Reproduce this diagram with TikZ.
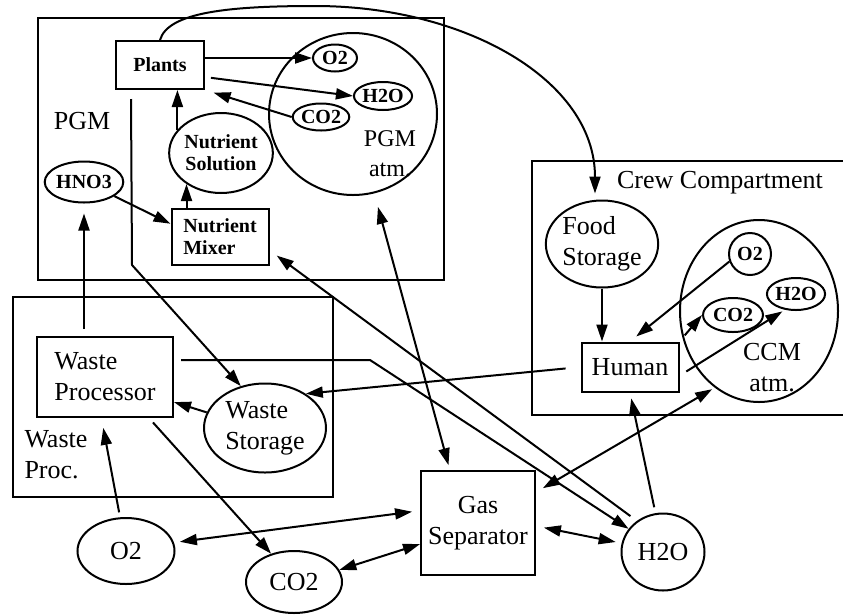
\documentclass[tikz,border=0pt]{standalone}
\usepackage{fontspec}
\setmainfont{Liberation Serif}
\usetikzlibrary{arrows.meta,shapes.geometric,calc}
\tikzset{
  ln/.style={line width=2pt},
  tip/.tip={Triangle[length=17pt,width=11pt]},
  arr/.style={ln,-tip},
  darr/.style={ln,tip-tip},
  bigtxt/.style={font=\fontsize{26}{31}\selectfont},
  smalltxt/.style={font=\bfseries\fontsize{20}{22}\selectfont},
  box/.style={draw,ln,rectangle,inner sep=0pt},
  ell/.style={draw,ln,ellipse,inner sep=0pt},
}
\begin{document}
\begin{tikzpicture}[x=1pt,y=-1pt]
\useasboundingbox (0,0) rectangle (843,614);
% module frames
\draw[ln] (38,18) rectangle (444,280);
\draw[ln] (13,297) rectangle (333,497);
\draw[ln] (845,161) -- (532,161) -- (532,415) -- (845,415);

% labels
\node[bigtxt] (pgmlbl) at (82,121) {PGM};
\node[bigtxt,align=left,anchor=west] (wplbl) at (21,455) {Waste\\Proc.};
\node[bigtxt] (crewlbl) at (720,183) {Crew Compartment};

% PGM nodes
\node[box,smalltxt,minimum width=88pt,minimum height=48pt] (Plants) at (160,65) {Plants};
\node[ell,minimum width=168pt,minimum height=162pt] (PGMatm) at (353,114) {};
\node[font=\fontsize{24}{30}\selectfont,align=center] (pgmatmtxt) at (390,154) {PGM\\atm.};
\node[ell,smalltxt,minimum width=44pt,minimum height=27pt] (O2a) at (335,58) {O2};
\node[ell,smalltxt,minimum width=57pt,minimum height=28pt] (H2Oa) at (383,96) {H2O};
\node[ell,smalltxt,minimum width=55pt,minimum height=27pt] (CO2a) at (321,117) {CO2};
\node[ell,smalltxt,minimum width=78pt,minimum height=41pt] (HNO3) at (84,182) {HNO3};
\node[ell,smalltxt,align=center,minimum width=98pt,minimum height=80pt] (NutSol) at (221,153) {Nutrient\\Solution};
\node[box,smalltxt,align=left,minimum width=97pt,minimum height=56pt] (Mixer) at (220,237) {Nutrient\\Mixer};

% Waste processing
\node[box,bigtxt,align=left,minimum width=136pt,minimum height=80pt] (WP) at (105,377) {Waste\\Processor};
\node[ell,bigtxt,align=left,minimum width=122pt,minimum height=89pt] (WS) at (265,428) {Waste\\Storage};

% Crew compartment
\node[ell,bigtxt,align=left,minimum width=106pt,minimum height=87pt] (FS) at (602,244) {Food\\Storage};
\node[box,bigtxt,minimum width=97pt,minimum height=49pt] (Human) at (630,367) {Human};
\node[ell,minimum width=158pt,minimum height=182pt] (CCMatm) at (759,311) {};
\node[bigtxt,align=center] (ccmtxt) at (772,368) {CCM\\atm.};
\node[ell,smalltxt,minimum width=42pt,minimum height=42pt] (O2c) at (750,254) {O2};
\node[ell,smalltxt,minimum width=54pt,minimum height=32pt] (H2Oc) at (796,294) {H2O};
\node[ell,smalltxt,minimum width=60pt,minimum height=34pt] (CO2c) at (733,315) {CO2};

% bottom row
\node[box,bigtxt,align=center,minimum width=114pt,minimum height=104pt] (GS) at (478,523) {Gas\\Separator};
\node[ell,bigtxt,minimum width=97pt,minimum height=66pt] (O2b) at (126,551) {O2};
\node[ell,bigtxt,minimum width=96pt,minimum height=62pt] (CO2b) at (294,582) {CO2};
\node[ell,bigtxt,minimum width=83pt,minimum height=77pt] (H2Ob) at (663,552) {H2O};

% free coordinates
\coordinate (ctop) at (315,6);
\coordinate (bendA) at (132,265);
\coordinate (bendB) at (370,360);

% PGM connectors
\draw[arr] (Plants.east |- O2a.west) -- (O2a.west);
\draw[arr,shorten <=6pt] (Plants.-15) -- (H2Oa.west);
\draw[arr,shorten >=9pt] (CO2a.west) -- (Plants.south east);
\draw[arr] (NutSol.152) -- (NutSol.152 |- Plants.south);
\draw[arr] (NutSol.222 |- Mixer.north) -- (NutSol.222);
\draw[arr] (HNO3.-25) -- (Mixer.165);
\draw[arr,shorten <=7pt,shorten >=10pt] (HNO3.south |- WP.north) -- (HNO3.south);
\draw[arr] ($(Plants.south west)+(16,9)$) -- (bendA) -- (WS.120);
% curved food arrow
\draw[arr] (Plants.north) .. controls (168,12) and (230,6) .. (ctop)
  .. controls (465,6) and (595,80) .. ($(FS.north)+(-7,-6)$);

% waste
\draw[arr] (WS.165) -- (WP.-20);
\draw[arr,shorten <=5pt,shorten >=10pt] (O2b.100) -- (WP.265);
\draw[arr,shorten <=6pt] (WP.-43) -- (CO2b.129);
\draw[arr] ($(WP.east)+(7,-17)$) -- (bendB) -- (H2Ob.146);
\draw[arr,shorten <=15pt] (Human.west) -- (WS.40);

% crew
\draw[arr] (FS.south) -- (FS.south |- Human.north);
\draw[arr,shorten >=8pt] (O2c.200) -- (Human.north);
\draw[arr,shorten <=8pt] (Human.north east) -- (CO2c.west);
\draw[arr,shorten <=8pt,shorten >=3pt] (Human.-10) -- (H2Oc.235);

% gas separator links
\draw[darr,shorten >=14pt,shorten <=5pt] (GS.118) -- (PGMatm.-75);
\draw[darr,shorten <=8pt,shorten >=3pt] (GS.28) -- (CCMatm.240);
\draw[darr,shorten <=8pt,shorten >=6pt] (GS.-3) -- (H2Ob.168);
\draw[darr,shorten <=6pt,shorten >=8pt] (O2b.10) -- (GS.168);
\draw[darr] (CO2b.15) -- (GS.200);
\draw[arr,shorten <=8pt,shorten >=9pt] (H2Ob.130) -- (Mixer.-15);
\draw[arr,shorten <=6pt,shorten >=6pt] (H2Ob.101) -- (Human.south);
\end{tikzpicture}
\end{document}
